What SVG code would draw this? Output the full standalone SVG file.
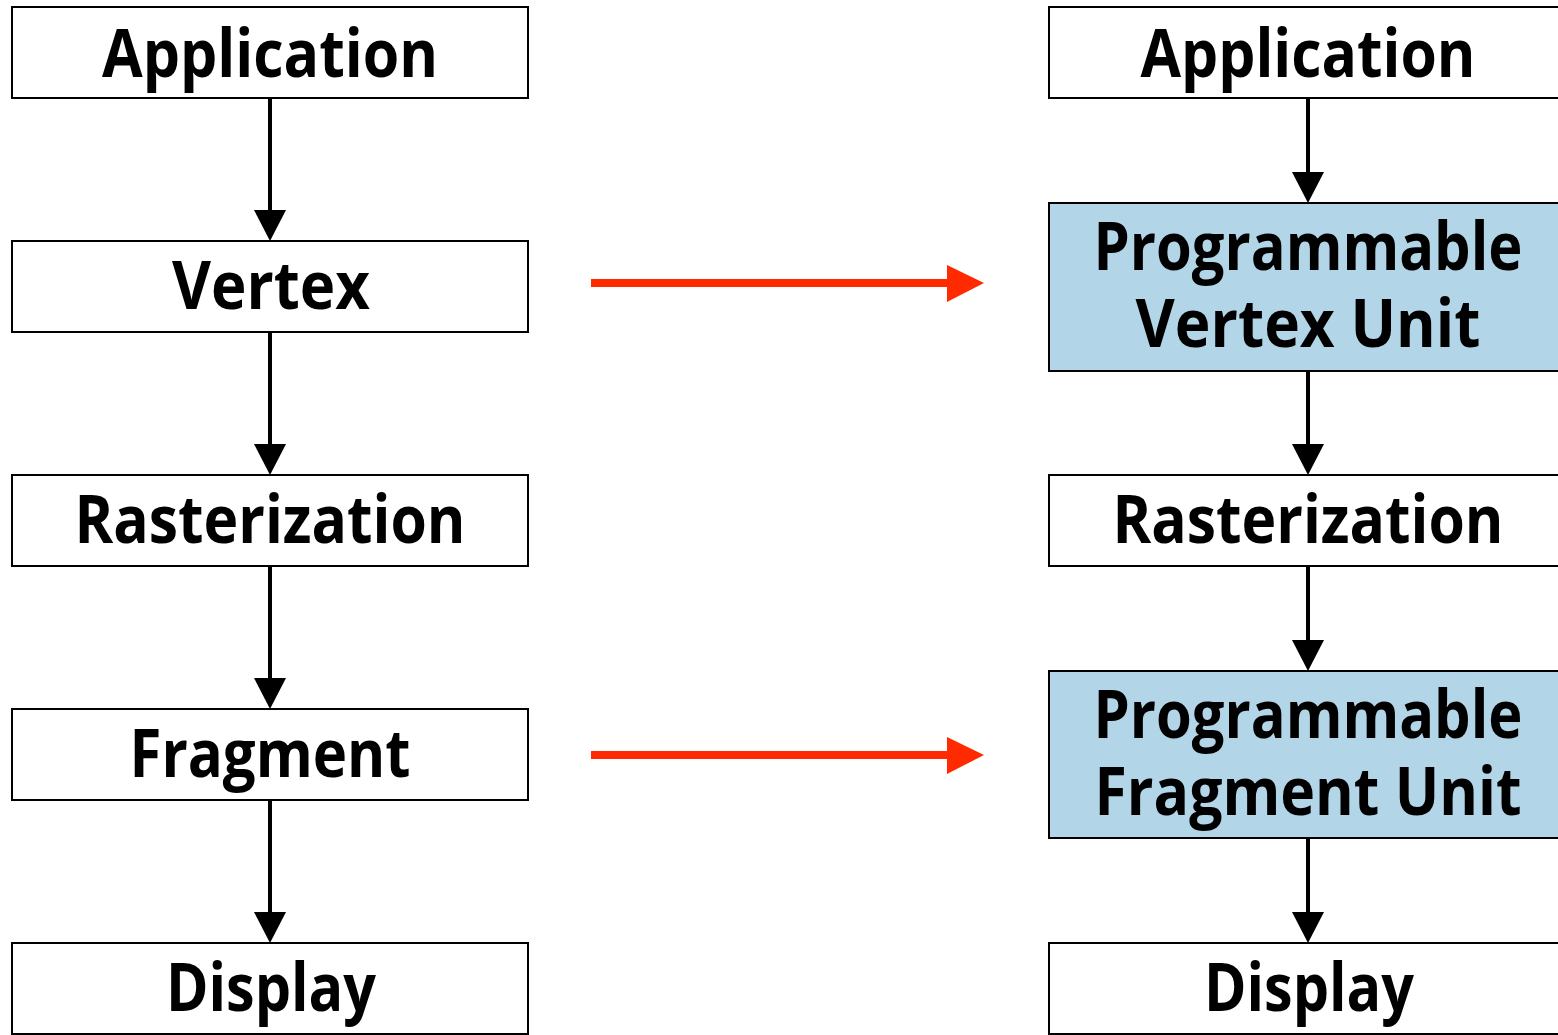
<svg xmlns="http://www.w3.org/2000/svg" width="1558" height="1035" viewBox="0 0 1558 1035">
  <style>
    .box { fill: #ffffff; stroke: #000000; stroke-width: 2; }
    .prog { fill: #b3d5e8; stroke: #000000; stroke-width: 2; }
    .lbl { font-family: "Open Sans", "DejaVu Sans", "Liberation Sans", sans-serif; font-weight: bold; font-size: 66px; fill: #000000; text-anchor: middle; }
    .flow { stroke: #000000; stroke-width: 4; fill: none; }
    .map { stroke: #ff2a00; stroke-width: 8; fill: none; }
  </style>
  <defs>
    <marker id="head" markerUnits="userSpaceOnUse" markerWidth="31" markerHeight="32" refX="0" refY="16" viewBox="0 0 31 32" orient="auto">
      <path d="M0,0 L31,16 L0,32 Z" fill="#000000"/>
    </marker>
  </defs>
  <rect width="1558" height="1035" fill="#ffffff"/>

  <!-- fixed-function pipeline -->
  <g id="fixed-application">
    <rect class="box" x="12" y="7" width="516" height="91"/>
    <text class="lbl" x="270" y="77" textLength="336" lengthAdjust="spacingAndGlyphs">Application</text>
  </g>
  <g id="fixed-vertex">
    <rect class="box" x="12" y="241" width="516" height="91"/>
    <text class="lbl" x="271" y="309" textLength="198" lengthAdjust="spacingAndGlyphs">Vertex</text>
  </g>
  <g id="fixed-rasterization">
    <rect class="box" x="12" y="475" width="516" height="91"/>
    <text class="lbl" x="270" y="543" textLength="391" lengthAdjust="spacingAndGlyphs">Rasterization</text>
  </g>
  <g id="fixed-fragment">
    <rect class="box" x="12" y="709" width="516" height="91"/>
    <text class="lbl" x="270" y="777" textLength="281" lengthAdjust="spacingAndGlyphs">Fragment</text>
  </g>
  <g id="fixed-display">
    <rect class="box" x="12" y="943" width="516" height="91"/>
    <text class="lbl" x="271" y="1011" textLength="210" lengthAdjust="spacingAndGlyphs">Display</text>
  </g>

  <!-- programmable pipeline (right edge runs past the canvas) -->
  <g id="prog-application">
    <rect class="box" x="1049" y="7" width="520" height="91"/>
    <text class="lbl" x="1308" y="77" textLength="335" lengthAdjust="spacingAndGlyphs">Application</text>
  </g>
  <g id="prog-vertex">
    <rect class="prog" x="1049" y="203" width="520" height="168"/>
    <text class="lbl" x="1308" y="270" textLength="429" lengthAdjust="spacingAndGlyphs">Programmable</text>
    <text class="lbl" x="1308" y="347" textLength="345" lengthAdjust="spacingAndGlyphs">Vertex Unit</text>
  </g>
  <g id="prog-rasterization">
    <rect class="box" x="1049" y="475" width="520" height="91"/>
    <text class="lbl" x="1308" y="543" textLength="391" lengthAdjust="spacingAndGlyphs">Rasterization</text>
  </g>
  <g id="prog-fragment">
    <rect class="prog" x="1049" y="671" width="520" height="167"/>
    <text class="lbl" x="1308" y="738" textLength="429" lengthAdjust="spacingAndGlyphs">Programmable</text>
    <text class="lbl" x="1308" y="815" textLength="427" lengthAdjust="spacingAndGlyphs">Fragment Unit</text>
  </g>
  <g id="prog-display">
    <rect class="box" x="1049" y="943" width="520" height="91"/>
    <text class="lbl" x="1309" y="1011" textLength="210" lengthAdjust="spacingAndGlyphs">Display</text>
  </g>

  <!-- connectors -->
  <g id="connectors">
    <line class="flow" x1="270" y1="98" x2="270" y2="210" marker-end="url(#head)"/>
    <line class="flow" x1="270" y1="332" x2="270" y2="444" marker-end="url(#head)"/>
    <line class="flow" x1="270" y1="566" x2="270" y2="678" marker-end="url(#head)"/>
    <line class="flow" x1="270" y1="800" x2="270" y2="912" marker-end="url(#head)"/>

    <line class="flow" x1="1308" y1="98" x2="1308" y2="172" marker-end="url(#head)"/>
    <line class="flow" x1="1308" y1="371" x2="1308" y2="444" marker-end="url(#head)"/>
    <line class="flow" x1="1308" y1="566" x2="1308" y2="640" marker-end="url(#head)"/>
    <line class="flow" x1="1308" y1="838" x2="1308" y2="912" marker-end="url(#head)"/>

    <line class="map" x1="591" y1="283" x2="949" y2="283"/>
    <path d="M947,265 L984,283 L947,302 Z" fill="#ff2a00"/>
    <line class="map" x1="591" y1="755" x2="949" y2="755"/>
    <path d="M947,737 L984,755 L947,774 Z" fill="#ff2a00"/>
  </g>
</svg>
